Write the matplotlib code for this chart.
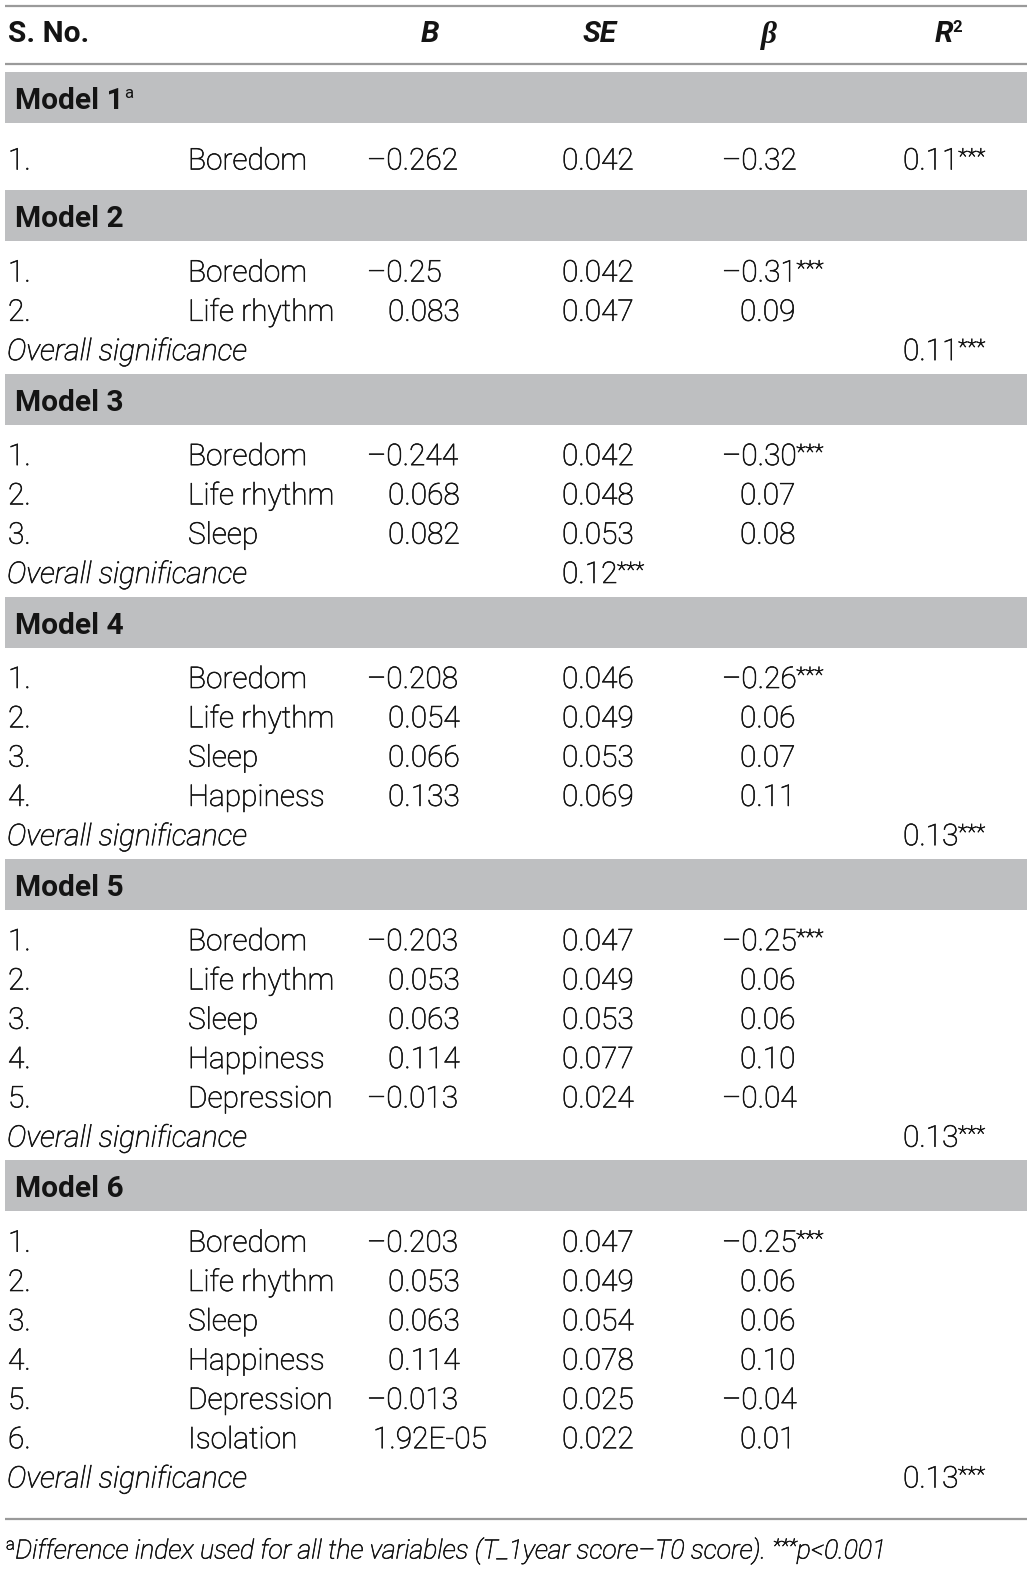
import matplotlib
matplotlib.use("Agg")
import matplotlib.pyplot as plt
import matplotlib.patheffects as pe

# ---------------- data ----------------
model_names = ["Model 1", "Model 2", "Model 3", "Model 4", "Model 5", "Model 6"]
model_marks = ["a", "", "", "", "", ""]
variables = ["Boredom", "Life rhythm", "Sleep", "Happiness", "Depression", "Isolation"]
b_values = [
    ["\u20130.262"],
    ["\u20130.25", "0.083"],
    ["\u20130.244", "0.068", "0.082"],
    ["\u20130.208", "0.054", "0.066", "0.133"],
    ["\u20130.203", "0.053", "0.063", "0.114", "\u20130.013"],
    ["\u20130.203", "0.053", "0.063", "0.114", "\u20130.013", "1.92E-05"],
]
se_values = [
    ["0.042"],
    ["0.042", "0.047"],
    ["0.042", "0.048", "0.053"],
    ["0.046", "0.049", "0.053", "0.069"],
    ["0.047", "0.049", "0.053", "0.077", "0.024"],
    ["0.047", "0.049", "0.054", "0.078", "0.025", "0.022"],
]
beta_values = [
    ["\u20130.32"],
    ["\u20130.31***", "0.09"],
    ["\u20130.30***", "0.07", "0.08"],
    ["\u20130.26***", "0.06", "0.07", "0.11"],
    ["\u20130.25***", "0.06", "0.06", "0.10", "\u20130.04"],
    ["\u20130.25***", "0.06", "0.06", "0.10", "\u20130.04", "0.01"],
]
r2_values = ["0.11***", "0.11***", "0.12***", "0.13***", "0.13***", "0.13***"]
# where the R2 value is printed: on first row, or in an "Overall significance" row in a column
r2_placement = ["inline", "r2", "se", "r2", "r2", "r2"]
overall_label = "Overall significance"
headers = ["S. No.", "B", "SE", "\u03b2", "R"]
footnote_main = "Difference index used for all the variables (T_1year score\u2013T0 score). "
footnote_tail = "p<0.001"

# ---------------- style / layout ----------------
FAM = "Roboto"
WT = "light"
TXT = "#141414"
BAND = "#bebfc1"
LINE = "#9a9a9a"
FS = 21.5
FS_BOLD = 21.5
FS_STAR = 15.5
FS_SUP = 12.0
THICK = [pe.withStroke(linewidth=0.45, foreground=TXT)]

W, H = 1035, 1573
fig = plt.figure(figsize=(W / 100, H / 100), dpi=100)
ax = fig.add_axes([0, 0, 1, 1])
ax.set_xlim(0, W)
ax.set_ylim(H, 0)
ax.axis("off")
renderer = fig.canvas.get_renderer()

X_NUM, X_VAR, X_MODEL, X_OVR = 8, 188, 15, 7
X_B_NEG, X_B_POS, X_B_E = 367, 388, 373
X_SE = 562
X_BETA_NEG, X_BETA_POS = 722, 740
X_R2 = 903
CAP = 10.5  # half cap height (px)


def right_px(t):
    return t.get_window_extent(renderer).x1


def put(x, y, s, ha="left", size=FS, weight=WT, style="normal", family=FAM):
    """Draw value; split trailing *** into a superscript."""
    stars = ""
    if s.endswith("***"):
        s, stars = s[:-3], "***"
    t = ax.text(x, y + CAP, s, ha=ha, va="baseline", fontsize=size, fontweight=weight,
                fontstyle=style, family=family, color=TXT, path_effects=THICK)
    if stars:
        x1 = right_px(t)
        ax.text(x1 - 0.5, y + CAP - 6, stars, ha="left", va="baseline", fontsize=FS_STAR,
                fontweight=weight, family=family, color=TXT, path_effects=THICK)
    return t


def put_num(x_neg, x_pos, y, s):
    put(x_neg if s.startswith("\u2013") else x_pos, y, s)


# rules
ax.plot([5, 1027], [6, 6], color=LINE, lw=1.6, solid_capstyle="butt")
ax.plot([5, 1027], [64, 64], color=LINE, lw=1.6, solid_capstyle="butt")

# header
yh = 32
ax.text(X_NUM, yh + CAP, headers[0], ha="left", va="baseline", fontsize=FS_BOLD,
        fontweight="bold", family=FAM, color=TXT)
ax.text(430, yh + CAP, headers[1], ha="center", va="baseline", fontsize=FS_BOLD,
        fontweight="bold", fontstyle="italic", family=FAM, color=TXT)
ax.text(600, yh + CAP, headers[2], ha="center", va="baseline", fontsize=FS_BOLD,
        fontweight="bold", fontstyle="italic", family=FAM, color=TXT)
ax.text(769, yh + CAP, headers[3], ha="center", va="baseline", fontsize=FS_BOLD + 1,
        fontweight="bold", fontstyle="italic", family="Liberation Serif", color=TXT)
tr = ax.text(944, yh + CAP, headers[4], ha="center", va="baseline", fontsize=FS_BOLD,
             fontweight="bold", fontstyle="italic", family=FAM, color=TXT)
ax.text(right_px(tr) - 1, yh + CAP - 10, "2", ha="left", va="baseline", fontsize=FS_SUP,
        fontweight="bold", family=FAM, color=TXT)

BAND_H = 51
PAD_TOP = 30
PITCH = 39.3
GAP = 24
EXTRA = [6, 0, 0, 0, 0, 0]
EXTRA_AFTER = [7, 0, 0, 0, 0, 0]

y = 72
for i, name in enumerate(model_names):
    ax.add_patch(plt.Rectangle((5, y), 1022, BAND_H, facecolor=BAND, edgecolor="none"))
    tm = ax.text(X_MODEL, y + BAND_H / 2 + CAP + 1, name, ha="left", va="baseline",
                 fontsize=FS_BOLD, fontweight="bold", family=FAM, color=TXT)
    if model_marks[i]:
        ax.text(right_px(tm) + 0.5, y + BAND_H / 2 + CAP - 10, model_marks[i], ha="left",
                va="baseline", fontsize=FS_SUP, fontweight="normal", family=FAM, color=TXT)
    ry = y + BAND_H + PAD_TOP + EXTRA[i]
    for j in range(len(b_values[i])):
        put(X_NUM, ry, f"{j + 1}.")
        put(X_VAR, ry, variables[j])
        bv = b_values[i][j]
        if "E" in bv:
            put(X_B_E, ry, bv)
        else:
            put_num(X_B_NEG, X_B_POS, ry, bv)
        put(X_SE, ry, se_values[i][j])
        put_num(X_BETA_NEG, X_BETA_POS, ry, beta_values[i][j])
        if j == 0 and r2_placement[i] == "inline":
            put(X_R2, ry, r2_values[i])
        last = ry
        ry += PITCH
    if r2_placement[i] != "inline":
        put(X_OVR, ry, overall_label, style="italic")
        put(X_SE if r2_placement[i] == "se" else X_R2, ry, r2_values[i])
        last = ry
    y = last + GAP + EXTRA_AFTER[i]

bottom = last + 42
ax.plot([5, 1027], [bottom, bottom], color=LINE, lw=1.6, solid_capstyle="butt")

# footnote, fitted to the reference width
yf = 1548


def draw_footnote(fs):
    parts = []
    sup = fs * 0.62
    t0 = ax.text(6, yf + CAP - 9, "a", ha="left", va="baseline", fontsize=sup,
                 fontweight=WT, fontstyle="normal", family=FAM, color=TXT, path_effects=THICK)
    parts.append(t0)
    t1 = ax.text(right_px(t0) + 0.5, yf + CAP, footnote_main, ha="left", va="baseline", fontsize=fs,
                 fontweight=WT, fontstyle="italic", family=FAM, color=TXT, path_effects=THICK)
    parts.append(t1)
    t2 = ax.text(right_px(t1), yf + CAP - 6, "***", ha="left", va="baseline", fontsize=sup * 1.2,
                 fontweight=WT, fontstyle="italic", family=FAM, color=TXT, path_effects=THICK)
    parts.append(t2)
    t3 = ax.text(right_px(t2), yf + CAP, footnote_tail, ha="left", va="baseline", fontsize=fs,
                 fontweight=WT, fontstyle="italic", family=FAM, color=TXT, path_effects=THICK)
    parts.append(t3)
    return parts, right_px(t3)


parts, xe = draw_footnote(FS)
scale = (887 - 6) / (xe - 6)
for p in parts:
    p.remove()
draw_footnote(FS * scale)

fig.savefig("out.png", dpi=100)
